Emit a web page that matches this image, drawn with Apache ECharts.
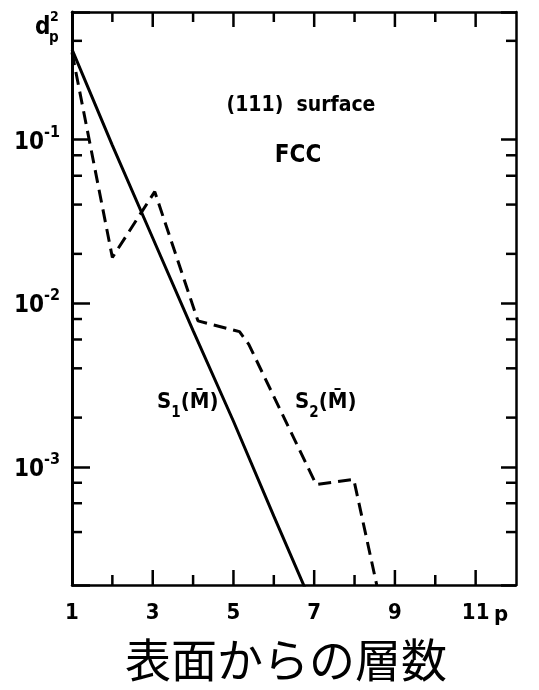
<!DOCTYPE html>
<html><head><meta charset="utf-8">
<script src="https://cdn.jsdelivr.net/npm/echarts@6/dist/echarts.min.js"></script>
<style>html,body{margin:0;padding:0;background:#fff}#c{width:539px;height:690px}</style>
</head><body><div id="c"></div>
<script>
// ---- data ----
const xLabelValues = [1, 3, 5, 7, 9, 11];
const xTickValues = [2, 3, 4, 5, 6, 7, 8, 9, 10, 11];
const yMinorTicks = [0.4, 0.08, 0.06, 0.04, 0.02, 0.008, 0.006, 0.004, 0.002, 0.0008, 0.0006, 0.0004];
const s1P = [1, 2, 3, 4, 5, 6, 7];
const s1Vals = [0.355, 0.092, 0.025, 0.0068, 0.0019, 0.0005, 0.000135];
const s2P = [1, 2, 3.05, 4.12, 5.15, 5.38, 7.05, 7.98, 8.55];
const s2Vals = [0.34, 0.019, 0.048, 0.0078, 0.0067, 0.0056, 0.00078, 0.00084, 0.00019];
const xMin = 1, xMax = 12;
const yMin = 0.00019, yMax = 0.6;

const F = "'Liberation Sans Narrow','DejaVu Sans Condensed',sans-serif";
const chart = echarts.init(document.getElementById('c'), null, {renderer: 'canvas'});

const isPow = v => Math.abs(Math.log10(v) - Math.round(Math.log10(v))) < 1e-6;
const xAxisBase = (pos) => ({
  type: 'value', min: xMin, max: xMax, interval: 1, position: pos,
  axisLine: {show: true, lineStyle: {color: '#000', width: 2.5}},
  axisTick: {show: false}, splitLine: {show: false},
  axisLabel: pos === 'bottom' ? {
    formatter: v => xLabelValues.includes(v) ? String(v) : '',
    fontSize: 22, fontWeight: 'bold', fontFamily: F, color: '#000', margin: 17
  } : {show: false}
});
const yAxisBase = (pos) => ({
  type: 'log', logBase: 10, min: yMin, max: yMax, position: pos,
  axisLine: {show: true, onZero: false, lineStyle: {color: '#000', width: pos === 'left' ? 3 : 2.5}},
  axisTick: {show: true, inside: true, length: pos === 'left' ? 18 : 15, lineStyle: {color: '#000', width: 2.5}},
  splitLine: {show: false},
  axisLabel: pos === 'left' ? {
    formatter: v => isPow(v) ? '{b|10}{s|-' + Math.round(-Math.log10(v)) + '}' : '',
    margin: 12,
    rich: {
      b: {fontSize: 24, fontWeight: 'bold', fontFamily: F, color: '#000', lineHeight: 30, verticalAlign: 'bottom'},
      s: {fontSize: 16, fontWeight: 'bold', fontFamily: F, color: '#000', lineHeight: 30, verticalAlign: 'top'}
    }
  } : {show: false}
});

const tickSeriesX = {
  type: 'custom', clip: false, silent: true, z: 5,
  data: xTickValues.map(p => [p, yMin]),
  renderItem: (params, api) => {
    const p = api.value(0);
    const b = api.coord([p, yMin]);
    const t = api.coord([p, yMax]);
    const len = xLabelValues.includes(p) ? 15 : 10;
    const st = {stroke: '#000', lineWidth: 2.5};
    return {type: 'group', children: [
      {type: 'line', shape: {x1: b[0], y1: b[1], x2: b[0], y2: b[1] - len}, style: st},
      {type: 'line', shape: {x1: t[0], y1: t[1], x2: t[0], y2: t[1] + len}, style: st}
    ]};
  }
};
const tickSeriesY = {
  type: 'custom', clip: false, silent: true, z: 5,
  data: yMinorTicks.map(v => [xMin, v]),
  renderItem: (params, api) => {
    const v = api.value(1);
    const l = api.coord([xMin, v]);
    const r = api.coord([xMax, v]);
    const st = {stroke: '#000', lineWidth: 2.5};
    return {type: 'group', children: [
      {type: 'line', shape: {x1: l[0], y1: l[1], x2: l[0] + 10, y2: l[1]}, style: st},
      {type: 'line', shape: {x1: r[0], y1: r[1], x2: r[0] - 10, y2: r[1]}, style: st}
    ]};
  }
};

const lab = (x, y, sub) => ({
  type: 'text', x: x, y: y,
  style: {
    text: '{t|S}{u|' + sub + '}{t|(M\u0304)}',
    rich: {
      t: {font: 'bold 22px ' + F, fill: '#000', lineHeight: 30, verticalAlign: 'top'},
      u: {font: 'bold 15px ' + F, fill: '#000', lineHeight: 30, verticalAlign: 'bottom'}
    },
    verticalAlign: 'middle'
  }
});

chart.setOption({
  animation: false,
  grid: {left: 72, right: 23, top: 12, bottom: 105, containLabel: false},
  xAxis: [xAxisBase('bottom'), xAxisBase('top')],
  yAxis: [yAxisBase('left'), yAxisBase('right')],
  series: [
    {type: 'line', data: s1P.map((p, i) => [p, s1Vals[i]]), symbol: 'none', clip: true,
     lineStyle: {color: '#000', width: 3}},
    {type: 'line', data: s2P.map((p, i) => [p, s2Vals[i]]), symbol: 'none', clip: true,
     lineStyle: {color: '#000', width: 3, type: [13, 7]}},
    tickSeriesX, tickSeriesY
  ],
  graphic: [
    {type: 'text', x: 35, y: 40, style: {text: 'd', font: 'bold 24px ' + F, fill: '#000', verticalAlign: 'bottom'}},
    {type: 'text', x: 50, y: 24, style: {text: '2', font: 'bold 14px ' + F, fill: '#000', verticalAlign: 'bottom'}},
    {type: 'text', x: 49, y: 46, style: {text: 'p', font: 'bold 15px ' + F, fill: '#000', verticalAlign: 'bottom'}},
    {type: 'text', x: 301, y: 106, style: {text: '(111)  surface', font: 'bold 21px ' + F, fill: '#000', align: 'center', verticalAlign: 'middle'}},
    {type: 'text', x: 298, y: 156, style: {text: 'FCC', font: 'bold 24px ' + F, fill: '#000', align: 'center', verticalAlign: 'middle'}},
    lab(157, 406, '1'),
    lab(295, 406, '2'),
    {type: 'text', x: 501, y: 615, style: {text: 'p', font: 'bold 22px ' + F, fill: '#000', align: 'center', verticalAlign: 'middle'}},
    {type: 'text', x: 286, y: 660, style: {text: '表面からの層数', font: 'normal 46px "Noto Sans CJK JP"', fill: '#000', align: 'center', verticalAlign: 'middle'}}
  ]
});
</script></body></html>
